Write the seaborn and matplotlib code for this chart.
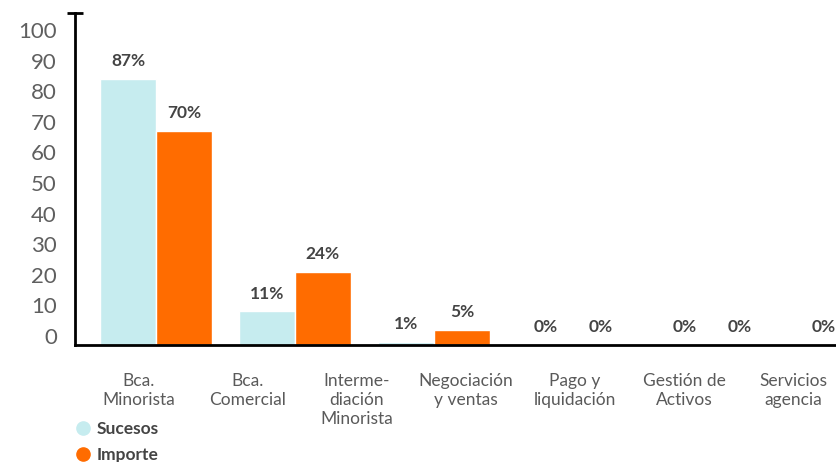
import numpy as np
import pandas as pd
import matplotlib
matplotlib.use("Agg")
import matplotlib.pyplot as plt
import seaborn as sns
from matplotlib.lines import Line2D
from matplotlib.transforms import ScaledTranslation

# Data
categories = ["Bca.\nMinorista", "Bca.\nComercial", "Interme-\ndiación\nMinorista",
              "Negociación\ny ventas", "Pago y\nliquidación", "Gestión de\nActivos",
              "Servicios\nagencia"]
sucesos = [87, 11, 1, 0, 0, 0, 0]
importe = [70, 24, 5, 0, 0, 0, 0]
series = ["Sucesos", "Importe"]
colors = ["#c6ecef", "#ff6c00"]
yticks = [0, 10, 20, 30, 40, 50, 60, 70, 80, 90, 100]

df = pd.DataFrame({
    "categoria": categories * 2,
    "serie": [series[0]] * len(categories) + [series[1]] * len(categories),
    "valor": sucesos + importe,
})

sns.set_theme(style="white")
plt.rcParams["font.family"] = ["Lato", "DejaVu Sans"]

fig = plt.figure(figsize=(8.36, 4.62), dpi=100)
# axes runs past the right edge, like the cropped original
ax = fig.add_axes([0.0897, 0.2532, 1.1777, 0.7187])

sns.barplot(data=df, x="categoria", y="valor", hue="serie", palette=colors,
            width=0.8, saturation=1, legend=False, ax=ax)

ax.set_xlim(-0.583, 6.5)
ax.set_ylim(0, 108.5)
ax.set_xlabel("")
ax.set_ylabel("")

# bar labels
for cont in ax.containers:
    ax.bar_label(cont, labels=[f"{v:.0f}%" for v in cont.datavalues], padding=7,
                 fontsize=12.5, fontweight="bold", color="#444444")

# y axis
ax.set_yticks(yticks)
ax.tick_params(axis="y", length=0, pad=13, labelsize=16, labelcolor="#5f5f5f")
for lab in ax.get_yticklabels():
    lab.set_transform(lab.get_transform() + ScaledTranslation(0, 0.09, fig.dpi_scale_trans))
ax.set_yticks([108.5], minor=True)
ax.tick_params(axis="y", which="minor", left=True, length=11, width=2,
               direction="inout", color="black")

# x axis: labels sit on their own spacing in the original
xpos = (139 + 109 * np.arange(len(categories)) - 156) / 139
ax.set_xticks(xpos, categories)
ax.tick_params(axis="x", length=0, pad=20, labelsize=12.5, labelcolor="#5a5a5a")
for lab in ax.get_xticklabels():
    lab.set_linespacing(1.25)

for s in ["top", "right"]:
    ax.spines[s].set_visible(False)
for s in ["left", "bottom"]:
    ax.spines[s].set_color("black")
    ax.spines[s].set_linewidth(2)

# legend
handles = [Line2D([], [], marker="o", linestyle="", markersize=9.5,
                  markerfacecolor=c, markeredgecolor=c) for c in colors]
fig.legend(handles, series, loc="upper left", bbox_to_anchor=(0.0905, 0.089),
           frameon=False, handlelength=0.9, handletextpad=0.3, labelspacing=0.6,
           borderpad=0, borderaxespad=0, labelcolor="#444444",
           prop={"weight": "bold", "size": 12.5})

fig.savefig("out.png", dpi=100)
